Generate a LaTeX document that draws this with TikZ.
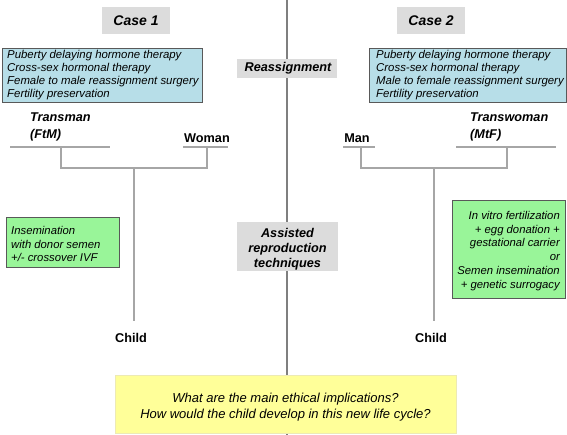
\documentclass[tikz,border=0pt]{standalone}
\usepackage{fontspec}
\setmainfont{Liberation Sans}
\definecolor{bluefill}{HTML}{B7DEE8}
\definecolor{greenfill}{HTML}{99F599}
\definecolor{grayfill}{HTML}{DCDCDC}
\definecolor{yellowfill}{HTML}{FFFF99}
\definecolor{linegray}{HTML}{A6A6A6}
\definecolor{maingray}{HTML}{7F7F7F}
\definecolor{borderdark}{HTML}{595959}
\tikzset{
  casebox/.style={fill=grayfill, inner sep=0pt, font=\fontsize{14}{16}\selectfont\bfseries\itshape},
  midbox/.style={fill=grayfill, inner sep=0pt},
  midtext/.style={inner sep=0pt, align=center, font=\fontsize{12.7}{15}\selectfont\bfseries\itshape},
  treatbox/.style={draw=borderdark, line width=0.8pt, fill=bluefill, inner sep=0pt},
  treattext/.style={anchor=north west, align=left, inner sep=0pt, font=\fontsize{11.4}{13}\selectfont\itshape},
  greenbox/.style={draw=borderdark, line width=0.8pt, fill=greenfill, inner sep=0pt},
  greentext/.style={inner sep=0pt, font=\fontsize{11.3}{13.8}\selectfont\itshape},
  person/.style={inner sep=0pt, font=\fontsize{12.7}{17}\selectfont\bfseries},
  persons/.style={inner sep=0pt, align=left, font=\fontsize{12.7}{17}\selectfont\bfseries\itshape},
  uline/.style={draw=linegray, line width=1.8pt},
  tree/.style={draw=linegray, line width=1.2pt},
}
\begin{document}
\begin{tikzpicture}[x=1pt,y=-1pt]
\useasboundingbox (0,0) rectangle (567,435);
% main vertical line
\coordinate (mtop) at (287,0);
\coordinate (mbot) at (287,435);
\draw[maingray, line width=1.2pt] (mtop) -- (mbot);

% case headers
\node[casebox, minimum width=68pt, minimum height=27pt] (case1) at (136,20.5) {Case 1};
\node[casebox, minimum width=68pt, minimum height=27pt] (case2) at (431,20.5) {Case 2};

% treatment boxes
\node[treatbox, minimum width=200pt, minimum height=54pt] (tb1) at (102,75) {};
\node[treattext] (tt1) at (7,50) {Puberty delaying hormone therapy\\Cross-sex hormonal therapy\\Female to male reassignment surgery\\Fertility preservation};
\node[treatbox, minimum width=197pt, minimum height=54pt] (tb2) at (467.5,75) {};
\node[treattext] (tt2) at (376,50) {Puberty delaying hormone therapy\\Cross-sex hormonal therapy\\Male to female reassignment surgery\\Fertility preservation};

% reassignment
\node[midbox, minimum width=100pt, minimum height=19pt] (reas) at (287,68.5) {};
\node[midtext] (reast) at (288,68.5) {Reassignment};

% case 1 family
\node[persons, anchor=west] (tm) at (30,126.5) {Transman\\(FtM)};
\node[person] (woman) at (207,138) {Woman};
\coordinate (tmL) at (10,147); \coordinate (tmR) at (110,147);
\coordinate (wL) at (183,147); \coordinate (wR) at (228,147);
\draw[uline] (tmL) -- (tmR);
\draw[uline] (wL) -- (wR);
\coordinate (c1a) at (61,147); \coordinate (c1b) at (61,168);
\coordinate (c1c) at (207,168); \coordinate (c1d) at (207,147);
\draw[tree] (c1a) -- (c1b) -- (c1c) -- (c1d);
\coordinate (c1m) at (134,168); \coordinate (c1e) at (134,321);
\draw[tree] (c1m) -- (c1e);
\node[person] (child1) at (131,338) {Child};

% case 2 family
\node[person] (man) at (357,138) {Man};
\node[persons, anchor=west] (tw) at (470,126.5) {Transwoman\\(MtF)};
\coordinate (mL) at (343,147); \coordinate (mR) at (375,147);
\coordinate (twL) at (456,147); \coordinate (twR) at (556,147);
\draw[uline] (mL) -- (mR);
\draw[uline] (twL) -- (twR);
\coordinate (c2a) at (361,147); \coordinate (c2b) at (361,168);
\coordinate (c2c) at (507,168); \coordinate (c2d) at (507,147);
\draw[tree] (c2a) -- (c2b) -- (c2c) -- (c2d);
\coordinate (c2m) at (434,168); \coordinate (c2e) at (434,321);
\draw[tree] (c2m) -- (c2e);
\node[person] (child2) at (431,338) {Child};

% green boxes
\node[greenbox, minimum width=113pt, minimum height=50pt] (g1) at (62.5,242) {};
\node[greentext, anchor=north west, align=left] (g1t) at (11,226) {Insemination\\with donor semen\\+/- crossover IVF};
\node[greenbox, minimum width=113pt, minimum height=98pt] (g2) at (508.5,249) {};
\node[greentext, anchor=north east, align=right] (g2t) at (560,211) {In vitro fertilization\\+ egg donation +\\gestational carrier\\or\\Semen insemination\\+ genetic surrogacy};

% assisted reproduction
\node[midbox, minimum width=101pt, minimum height=49pt] (art) at (287.5,246.5) {};
\node[midtext] (artt) at (287.5,249) {Assisted\\reproduction\\techniques};

% yellow question box
\node[draw=yellow!60!gray!40, fill=yellowfill, line width=0.6pt, minimum width=341pt, minimum height=58pt, inner sep=0pt] (q) at (285.5,404.5) {};
\node[inner sep=0pt, align=center, font=\fontsize{13}{16}\selectfont\itshape] (qt) at (285.5,407) {What are the main ethical implications?\\How would the child develop in this new life cycle?};
\end{tikzpicture}
\end{document}
